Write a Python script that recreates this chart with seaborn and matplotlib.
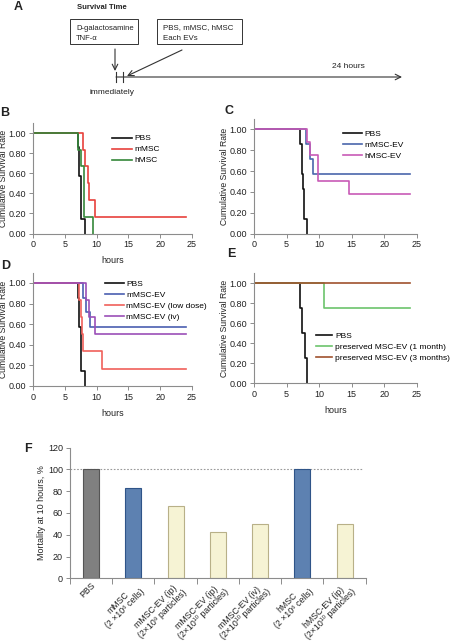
import pandas as pd
import matplotlib
matplotlib.use("Agg")
import matplotlib.pyplot as plt
import seaborn as sns
from matplotlib.patches import Rectangle

# Survival data (hours of each drop, survival after the drop)
pbs_times = [7.1, 7.3, 7.5, 7.6, 8.1]
pbs_surv = [0.857, 0.571, 0.429, 0.143, 0.0]

b_mmsc_times = [7.9, 8.2, 8.6, 8.8, 9.75]
b_mmsc_surv = [0.833, 0.667, 0.5, 0.333, 0.167]
b_hmsc_times = [7.1, 7.5, 8.0, 9.4]
b_hmsc_surv = [0.833, 0.667, 0.167, 0.0]

c_mev_times = [7.95, 8.6, 9.1]
c_mev_surv = [0.857, 0.714, 0.571]
c_hev_times = [8.1, 8.6, 9.8, 14.5]
c_hev_surv = [0.875, 0.75, 0.5, 0.375]

d_mev_times = [7.8, 8.4, 8.9]
d_mev_surv = [0.857, 0.714, 0.571]
d_low_times = [7.3, 7.6, 7.7, 7.9, 10.9]
d_low_surv = [0.833, 0.667, 0.5, 0.333, 0.167]
d_iv_times = [8.4, 8.8, 9.8]
d_iv_surv = [0.833, 0.667, 0.5]

e_pbs_times = [7.1, 7.4, 7.8, 8.2]
e_pbs_surv = [0.75, 0.5, 0.25, 0.0]
e_1m_times = [10.7]
e_1m_surv = [0.75]
e_3m_times = [24.0]
e_3m_surv = [1.0]

# Mortality at 10 hours
f_labels = ["PBS",
            "mMSC\n(2 \u00d710\u2076 cells)",
            "mMSC-EV (ip)\n(2\u00d710\u2079 particles)",
            "mMSC-EV (ip)\n(2\u00d710\u00b9\u2070 particles)",
            "mMSC-EV (iv)\n(2\u00d710\u00b9\u2070 particles)",
            "hMSC\n(2 \u00d710\u2076 cells)",
            "hMSC-EV (ip)\n(2\u00d710\u00b9\u2070 particles)"]
f_values = [100, 83.3, 66.7, 42.9, 50, 100, 50]
f_colors = ["#808080", "#4f7fbf", "#fbf7cf", "#fbf7cf", "#fbf7cf", "#4f7fbf", "#fbf7cf"]
f_edges = ["#555555", "#2f5488", "#b8b088", "#b8b088", "#b8b088", "#2f5488", "#b8b088"]

W, H = 452, 641
plt.rcParams["font.family"] = ["Liberation Sans", "DejaVu Sans"]
TXT = "#222222"
SPINE = "#8c8c8c"


def km_frame(groups):
    rows = []
    for name, (times, surv) in groups.items():
        xs = [0.0] + list(times)
        ys = [1.0] + list(surv)
        if surv[-1] > 0 and xs[-1] < 24:
            xs.append(24.0)
            ys.append(surv[-1])
        for x, y in zip(xs, ys):
            rows.append({"hours": x, "survival": y, "group": name})
    return pd.DataFrame(rows)


def px_axes(fig, x0, x1, y0, y1):
    return fig.add_axes([x0 / W, (H - y1) / H, (x1 - x0) / W, (y1 - y0) / H])


def style_axes(ax):
    ax.set_xlim(0, 25)
    ax.set_ylim(0, 1.1)
    ax.set_xticks(range(0, 26, 5))
    ax.set_yticks([0, 0.2, 0.4, 0.6, 0.8, 1.0])
    ax.set_yticklabels([f"{v:.2f}" for v in [0, 0.2, 0.4, 0.6, 0.8, 1.0]])
    for s in ["top", "right"]:
        ax.spines[s].set_visible(False)
    for s in ["left", "bottom"]:
        ax.spines[s].set_color(SPINE)
        ax.spines[s].set_linewidth(0.8)
    ax.tick_params(labelsize=6.5, colors=SPINE, labelcolor=TXT, length=3, width=0.7, pad=2)
    ax.set_facecolor("none")


def km_panel(ax, groups, palette, lx, ly, xlabel=True, hlen=2.3):
    df = km_frame(groups)
    sns.lineplot(data=df, x="hours", y="survival", hue="group", palette=palette,
                 drawstyle="steps-post", estimator=None, sort=False, linewidth=1.2, ax=ax)
    leg = ax.get_legend()
    handles = leg.legend_handles
    labels = [t.get_text() for t in leg.get_texts()]
    ax.legend(handles, labels, loc="upper left", bbox_to_anchor=(lx, ly), frameon=False,
              fontsize=6, handlelength=hlen, handletextpad=0.3, labelspacing=0.38,
              borderpad=0, borderaxespad=0)
    style_axes(ax)
    ax.set_ylabel("Cumulative Survival Rate", fontsize=6.2, color=TXT, labelpad=0.5)
    ax.set_xlabel("hours" if xlabel else "", fontsize=6.5, color=TXT, labelpad=5)


fig = plt.figure(figsize=(W / 100, H / 100), dpi=100)

# Panel A: timeline diagram in pixel coordinates
a0 = fig.add_axes([0, 0, 1, 1])
a0.set_xlim(0, W)
a0.set_ylim(H, 0)
a0.axis("off")
a0.text(18, 7, "A", fontsize=9, fontweight="bold", ha="center", va="center", color=TXT)
a0.text(77, 7.5, "Survival Time", fontsize=5.5, fontweight="bold", ha="left", va="center", color=TXT)
a0.add_patch(Rectangle((70, 19), 68, 25, fill=False, edgecolor="#333333", linewidth=0.7))
a0.add_patch(Rectangle((157, 19), 85, 25, fill=False, edgecolor="#333333", linewidth=0.7))
a0.text(76, 28.5, "D-galactosamine", fontsize=5.5, ha="left", va="center", color=TXT)
a0.text(76, 38, "TNF-\u03b1", fontsize=5.5, ha="left", va="center", color=TXT)
a0.text(163, 28, "PBS, mMSC, hMSC", fontsize=5.7, ha="left", va="center", color=TXT)
a0.text(163, 38, "Each EVs", fontsize=5.7, ha="left", va="center", color=TXT)
arrow = dict(arrowstyle="->", color="#333333", linewidth=0.8, shrinkA=0, shrinkB=0)
a0.annotate("", xy=(115, 71), xytext=(115, 49), arrowprops=arrow)
a0.annotate("", xy=(127, 76), xytext=(182, 50), arrowprops=arrow)
a0.annotate("", xy=(402, 77), xytext=(116, 77), arrowprops=arrow)
a0.plot([116, 116], [72, 82], color="#333333", linewidth=0.8)
a0.plot([123, 123], [72, 82], color="#333333", linewidth=0.8)
a0.text(332, 66, "24 hours", fontsize=6, ha="left", va="center", color=TXT)
a0.text(90, 92, "immediately", fontsize=6, ha="left", va="center", color=TXT)
a0.text(5, 113, "B", fontsize=9, fontweight="bold", ha="center", va="center", color=TXT)
a0.text(229, 111, "C", fontsize=9, fontweight="bold", ha="center", va="center", color=TXT)
a0.text(6, 266, "D", fontsize=9, fontweight="bold", ha="center", va="center", color=TXT)
a0.text(231, 254, "E", fontsize=9, fontweight="bold", ha="center", va="center", color=TXT)
a0.text(28, 449, "F", fontsize=9, fontweight="bold", ha="center", va="center", color=TXT)

# Panel B
axB = px_axes(fig, 33, 192, 123, 233.5)
km_panel(axB, {"PBS": (pbs_times, pbs_surv), "mMSC": (b_mmsc_times, b_mmsc_surv),
               "hMSC": (b_hmsc_times, b_hmsc_surv)},
         ["#111111", "#e8413c", "#35883a"], 0.5, 0.895)

# Panel C
axC = px_axes(fig, 254, 417, 119, 233.5)
km_panel(axC, {"PBS": (pbs_times, pbs_surv), "mMSC-EV": (c_mev_times, c_mev_surv),
               "hMSC-EV": (c_hev_times, c_hev_surv)},
         ["#111111", "#4a66ac", "#c85ab6"], 0.546, 0.9, xlabel=False)

# Panel D
axD = px_axes(fig, 33, 192, 272.7, 385.7)
km_panel(axD, {"PBS": (pbs_times, pbs_surv), "mMSC-EV": (d_mev_times, d_mev_surv),
               "mMSC-EV (low dose)": (d_low_times, d_low_surv),
               "mMSC-EV (iv)": (d_iv_times, d_iv_surv)},
         ["#111111", "#4a5fb0", "#f0605a", "#9b4fb8"], 0.45, 0.935)

# Panel E
axE = px_axes(fig, 254, 417, 273, 383.3)
km_panel(axE, {"PBS": (e_pbs_times, e_pbs_surv),
               "preserved MSC-EV (1 month)": (e_1m_times, e_1m_surv),
               "preserved MSC-EV (3 months)": (e_3m_times, e_3m_surv)},
         ["#111111", "#6cc46c", "#a0522d"], 0.379, 0.46, hlen=2.0)

# Panel F
axF = px_axes(fig, 70, 365.7, 447.7, 578.3)
fdf = pd.DataFrame({"group": f_labels, "value": f_values})
sns.barplot(data=fdf, x="group", y="value", hue="group", palette=f_colors,
            width=0.38, legend=False, ax=axF)
for patch, ec in zip(axF.patches, f_edges):
    patch.set_edgecolor(ec)
    patch.set_linewidth(0.8)
axF.axhline(100, xmin=0, xmax=0.99, color="#999999", linestyle=(0, (1.5, 1.5)),
            linewidth=0.8, zorder=0)
axF.set_xlim(-0.5, 6.5)
axF.set_ylim(0, 120)
axF.set_yticks(range(0, 121, 20))
axF.set_xticks(range(7))
axF.set_xticklabels(f_labels, rotation=45, ha="right", rotation_mode="anchor",
                    multialignment="center", fontsize=6.3, linespacing=1.0, color=TXT)
axF.set_xticks([i + 0.5 for i in range(-1, 7)], minor=True)
axF.tick_params(axis="x", which="major", length=0, pad=2)
axF.tick_params(axis="x", which="minor", length=4, width=0.7, color=SPINE)
axF.tick_params(axis="y", labelsize=6.5, colors=SPINE, labelcolor=TXT, length=3, width=0.7, pad=2)
for s in ["top", "right"]:
    axF.spines[s].set_visible(False)
for s in ["left", "bottom"]:
    axF.spines[s].set_color(SPINE)
    axF.spines[s].set_linewidth(0.8)
axF.set_facecolor("none")
axF.set_xlabel("")
axF.set_ylabel("Mortality at 10 hours, %", fontsize=6.5, color=TXT, labelpad=1.5)

fig.savefig("out.png", dpi=100)
